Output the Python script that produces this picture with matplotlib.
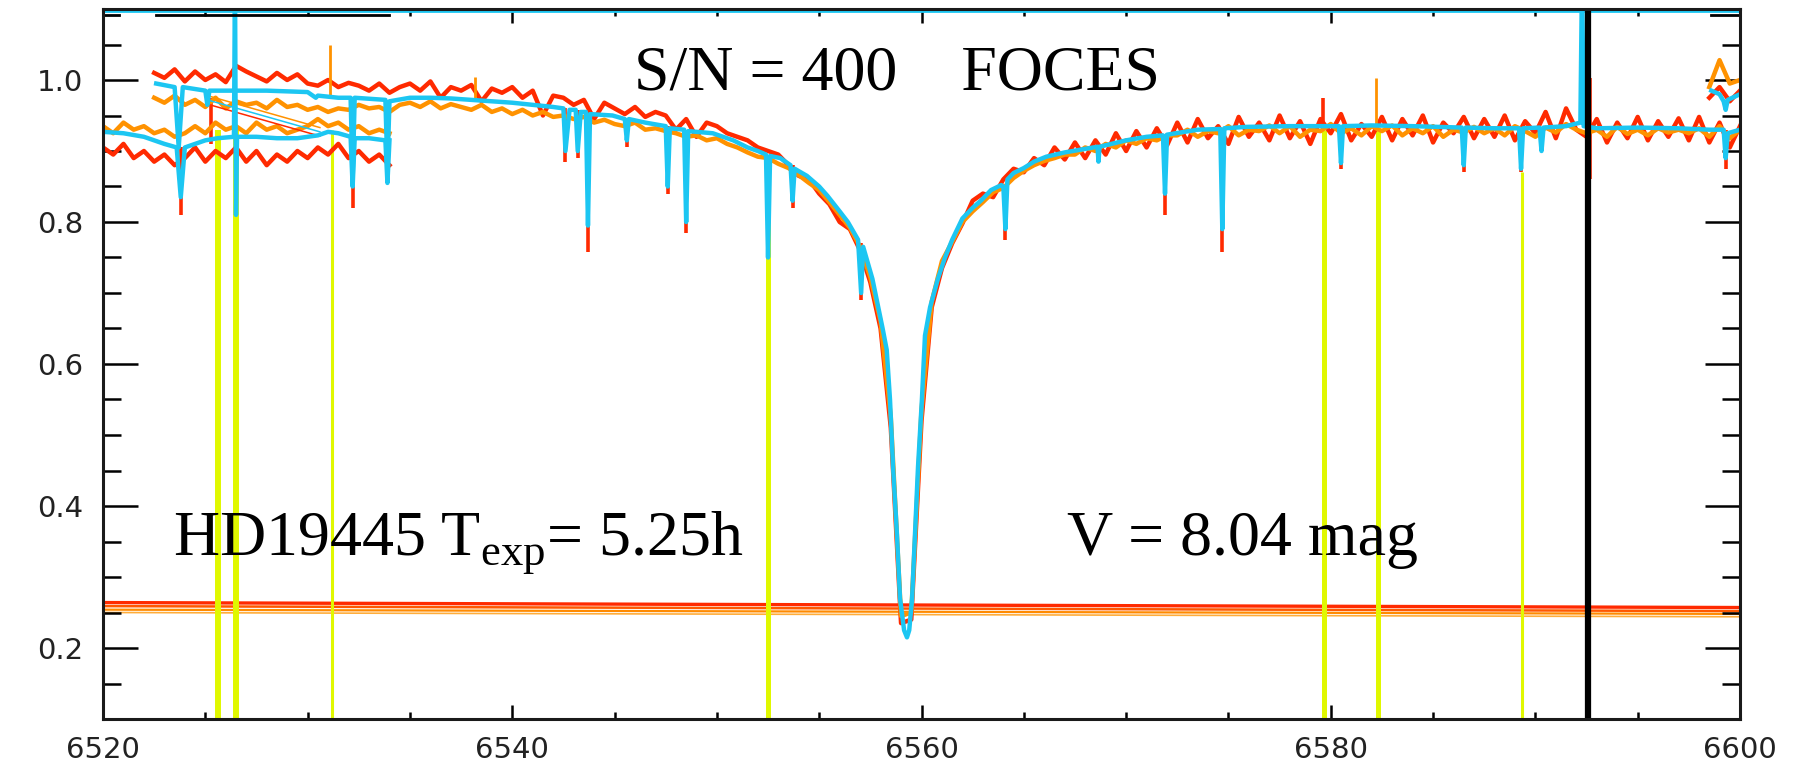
import numpy as np
import matplotlib.pyplot as plt
from matplotlib.ticker import MultipleLocator


# --------------------------------------------------------------------------------------------------
# Values (wavelength in Angstrom, normalised flux)
# --------------------------------------------------------------------------------------------------

# cyan (mean) spectrum: previous order (lower, ~0.92), main order, next order (upper right)
cyan_a = [(6520.0, 0.927), (6521.0, 0.925), (6522.0, 0.920), (6523.0, 0.910),
          (6523.6, 0.905), (6523.8, 0.835), (6524.0, 0.905), (6525.0, 0.915),
          (6525.6, 0.918), (6526.40, 0.920), (6526.45, 1.150), (6526.50, 0.810),
          (6526.55, 0.920), (6527.5, 0.920), (6528.5, 0.918), (6529.5, 0.918),
          (6530.5, 0.922), (6531.0, 0.927), (6531.5, 0.925), (6532.1, 0.920),
          (6532.2, 0.850), (6532.3, 0.918), (6533.0, 0.918), (6533.8, 0.915),
          (6533.9, 0.855), (6534.0, 0.915)]

cyan_b = [(6522.6, 0.995), (6523.5, 0.990), (6523.7, 0.905), (6523.9, 0.990),
          (6525.0, 0.985), (6525.1, 0.965), (6525.2, 0.985), (6528.0, 0.985),
          (6530.0, 0.983), (6530.4, 0.975), (6530.5, 0.978), (6531.5, 0.975),
          (6532.1, 0.975), (6532.2, 0.860), (6532.3, 0.975), (6533.8, 0.972),
          (6533.9, 0.875), (6534.0, 0.970), (6535.0, 0.975), (6536.0, 0.975),
          (6537.0, 0.974), (6538.0, 0.972), (6539.0, 0.970), (6540.0, 0.968),
          (6541.0, 0.965), (6542.0, 0.962), (6542.5, 0.960), (6542.6, 0.900),
          (6542.8, 0.958), (6543.1, 0.958), (6543.2, 0.900), (6543.35, 0.955),
          (6543.6, 0.955), (6543.7, 0.795), (6543.8, 0.952), (6544.9, 0.950),
          (6545.5, 0.945), (6545.6, 0.915), (6545.7, 0.945), (6546.5, 0.940),
          (6547.5, 0.935), (6547.6, 0.850), (6547.7, 0.932), (6548.4, 0.930),
          (6548.5, 0.800), (6548.6, 0.928), (6549.8, 0.925), (6550.8, 0.915),
          (6551.5, 0.905), (6552.0, 0.900), (6552.4, 0.895), (6552.5, 0.750),
          (6552.6, 0.893), (6553.1, 0.890), (6553.6, 0.880), (6553.7, 0.830),
          (6553.8, 0.875), (6554.4, 0.865), (6555.0, 0.850), (6555.4, 0.837),
          (6556.0, 0.815), (6556.4, 0.800), (6556.9, 0.775), (6557.05, 0.700),
          (6557.15, 0.765), (6557.6, 0.720), (6558.1, 0.650), (6558.3, 0.620),
          (6558.46, 0.550), (6558.61, 0.455), (6558.80, 0.360), (6558.95, 0.270),
          (6559.15, 0.225), (6559.29, 0.215), (6559.40, 0.225), (6559.54, 0.270),
          (6559.68, 0.360), (6559.83, 0.455), (6560.02, 0.550), (6560.17, 0.640),
          (6560.42, 0.680), (6560.8, 0.720), (6561.15, 0.750), (6561.5, 0.775),
          (6562.0, 0.805), (6562.5, 0.820), (6562.9, 0.830), (6563.4, 0.845),
          (6563.9, 0.852), (6564.0, 0.850), (6564.1, 0.790), (6564.2, 0.860),
          (6564.5, 0.869), (6565.0, 0.876), (6565.5, 0.885), (6566.1, 0.892),
          (6567.0, 0.898), (6568.0, 0.903), (6568.6, 0.906), (6568.65, 0.885),
          (6568.7, 0.906), (6570.0, 0.915), (6571.0, 0.920), (6571.8, 0.922),
          (6571.9, 0.840), (6572.0, 0.923), (6573.5, 0.930), (6574.6, 0.931),
          (6574.7, 0.790), (6574.8, 0.932), (6575.9, 0.934), (6578.0, 0.935),
          (6580.4, 0.935), (6580.5, 0.883), (6580.6, 0.935), (6582.0, 0.936),
          (6584.0, 0.935), (6586.4, 0.933), (6586.5, 0.880), (6586.6, 0.933),
          (6588.0, 0.932), (6589.2, 0.932), (6589.3, 0.875), (6589.4, 0.932),
          (6590.2, 0.933), (6590.3, 0.900), (6590.4, 0.933), (6591.5, 0.935),
          (6592.2, 0.940), (6592.28, 1.150), (6592.36, 0.935), (6593.0, 0.932),
          (6595.0, 0.933), (6597.0, 0.932), (6598.5, 0.930), (6599.2, 0.930),
          (6599.3, 0.890), (6599.4, 0.925), (6600.0, 0.930)]

cyan_c = [(6598.6, 0.985), (6599.0, 0.980), (6599.2, 0.970), (6599.3, 0.958),
          (6599.4, 0.972), (6600.0, 0.980)]

# red and orange spectra, sampled every 0.5 A from the start of each order
start_a, start_b, start_c = 6520.0, 6522.5, 6598.5
step = 0.5

red_a = [0.905, 0.895, 0.910, 0.890, 0.900, 0.885, 0.895, 0.880, 0.890, 0.905,
         0.885, 0.900, 0.890, 0.905, 0.885, 0.900, 0.880, 0.895, 0.885, 0.900,
         0.890, 0.905, 0.895, 0.910, 0.890, 0.900, 0.885, 0.895, 0.880]
orange_a = [0.935, 0.925, 0.940, 0.930, 0.935, 0.925, 0.930, 0.920, 0.925, 0.935,
            0.925, 0.940, 0.930, 0.935, 0.925, 0.940, 0.930, 0.935, 0.925, 0.930,
            0.935, 0.945, 0.935, 0.940, 0.930, 0.935, 0.925, 0.930, 0.925]

red_b = [1.010, 1.003, 1.015, 0.998, 1.012, 1.000, 1.008, 0.997, 1.020, 1.012,
         1.005, 0.998, 1.010, 1.000, 1.008, 0.995, 0.992, 1.000, 0.990, 0.996,
         0.992, 0.985, 0.995, 0.982, 0.990, 0.995, 0.985, 0.998, 0.975, 0.990,
         0.985, 0.993, 0.970, 0.988, 0.982, 0.990, 0.975, 0.985, 0.950, 0.978,
         0.975, 0.965, 0.972, 0.945, 0.968, 0.960, 0.952, 0.962, 0.948, 0.955,
         0.950, 0.930, 0.945, 0.920, 0.940, 0.935, 0.925, 0.920, 0.915, 0.905,
         0.900, 0.895, 0.880, 0.865, 0.860, 0.840, 0.825, 0.800, 0.790, 0.760,
         0.715, 0.650, 0.510, 0.235, 0.240, 0.520, 0.680, 0.735, 0.770, 0.798,
         0.830, 0.840, 0.835, 0.860, 0.875, 0.870, 0.890, 0.880, 0.905, 0.888,
         0.912, 0.890, 0.915, 0.895, 0.925, 0.900, 0.928, 0.905, 0.932, 0.908,
         0.940, 0.912, 0.945, 0.918, 0.935, 0.910, 0.948, 0.920, 0.940, 0.915,
         0.950, 0.918, 0.942, 0.910, 0.945, 0.925, 0.952, 0.915, 0.938, 0.920,
         0.948, 0.915, 0.945, 0.922, 0.950, 0.912, 0.940, 0.925, 0.948, 0.918,
         0.945, 0.920, 0.950, 0.915, 0.942, 0.925, 0.955, 0.918, 0.960, 0.930,
         0.920, 0.945, 0.912, 0.940, 0.918, 0.948, 0.915, 0.942, 0.920, 0.946,
         0.915, 0.948, 0.912, 0.940, 0.905, 0.935]
orange_b = [0.975, 0.968, 0.978, 0.965, 0.972, 0.962, 0.975, 0.960, 0.970, 0.965,
            0.968, 0.960, 0.972, 0.962, 0.965, 0.958, 0.962, 0.955, 0.960, 0.958,
            0.965, 0.960, 0.962, 0.955, 0.965, 0.968, 0.962, 0.970, 0.960, 0.966,
            0.962, 0.958, 0.965, 0.955, 0.960, 0.952, 0.958, 0.950, 0.955, 0.948,
            0.950, 0.945, 0.948, 0.940, 0.944, 0.938, 0.935, 0.940, 0.930, 0.932,
            0.928, 0.925, 0.920, 0.922, 0.915, 0.918, 0.910, 0.905, 0.898, 0.892,
            0.890, 0.882, 0.876, 0.866, 0.855, 0.845, 0.828, 0.810, 0.792, 0.765,
            0.722, 0.660, 0.525, 0.245, 0.250, 0.535, 0.688, 0.745, 0.772, 0.800,
            0.815, 0.828, 0.842, 0.848, 0.862, 0.872, 0.880, 0.886, 0.890, 0.895,
            0.895, 0.905, 0.900, 0.910, 0.905, 0.915, 0.910, 0.918, 0.915, 0.922,
            0.922, 0.930, 0.920, 0.928, 0.925, 0.935, 0.922, 0.930, 0.928, 0.936,
            0.925, 0.935, 0.920, 0.930, 0.928, 0.938, 0.925, 0.932, 0.922, 0.935,
            0.928, 0.936, 0.922, 0.932, 0.925, 0.935, 0.920, 0.930, 0.926, 0.934,
            0.925, 0.932, 0.922, 0.935, 0.928, 0.920, 0.933, 0.926, 0.938, 0.930,
            0.925, 0.930, 0.920, 0.934, 0.924, 0.930, 0.922, 0.932, 0.926, 0.930,
            0.925, 0.932, 0.920, 0.935, 0.918, 0.930]

red_c = [0.975, 0.990, 0.970, 0.985]
orange_c = [0.990, 1.028, 0.995, 1.000]

# narrow red features (line cores and single-pixel spikes): wavelength, low and high flux
red_tick_wl = [6523.8, 6525.3, 6532.2, 6533.9, 6542.6, 6543.2, 6543.7, 6545.6, 6547.6,
               6548.5, 6553.7, 6557.05, 6564.1, 6571.9, 6574.7, 6579.6, 6580.5, 6586.5,
               6589.3, 6592.65, 6599.3]
red_tick_lo = [0.810, 0.910, 0.820, 0.855, 0.885, 0.890, 0.758, 0.905, 0.840,
               0.785, 0.820, 0.690, 0.775, 0.810, 0.758, 0.930, 0.875, 0.870,
               0.870, 0.860, 0.875]
red_tick_hi = [0.905, 0.975, 0.915, 0.915, 0.960, 0.958, 0.955, 0.945, 0.935,
               0.930, 0.880, 0.770, 0.850, 0.922, 0.931, 0.975, 0.935, 0.933,
               0.932, 1.003, 0.930]

orange_tick_wl = [6531.1, 6538.2, 6582.2]
orange_tick_lo = [0.975, 0.970, 0.935]
orange_tick_hi = [1.050, 1.004, 1.003]

# lines joining the end of one order to the next
wrap_wl = [6525.1, 6530.6]
wrap_orange = [0.978, 0.933]
wrap_cyan = [0.972, 0.927]
wrap_red = [0.966, 0.921]

# spectra clipped at the top of the frame
top_cyan_wl = [6520.0, 6600.0]
top_cyan = [1.097, 1.097]
top_black_segments = [([6520.0, 6520.8], [1.091, 1.091]),
                      ([6522.6, 6534.0], [1.091, 1.091]),
                      ([6598.6, 6600.0], [1.091, 1.091])]

# background level traces near 0.25
hz_wl = [6520.0, 6600.0]
hz_red = [0.264, 0.257]
hz_orangered = [0.259, 0.252]
hz_orange = [0.254, 0.248]
hz_light = [0.250, 0.244]

# masked (telluric) wavelengths shown in yellow, and the black marker
yellow_wl = [6525.62, 6526.52, 6531.19, 6552.5, 6579.68, 6582.3, 6589.34]
yellow_top = [0.93, 0.93, 0.93, 0.85, 0.93, 0.93, 0.87]
black_wl = [6592.55]


# --------------------------------------------------------------------------------------------------

CYAN = '#1cc6f2'
RED = '#ff2a00'
ORANGE = '#ff9200'
YELLOW = '#e0f800'

plt.rcParams['mathtext.fontset'] = 'custom'
plt.rcParams['mathtext.rm'] = 'Liberation Serif'

fig = plt.figure(figsize=(18.09, 7.62), dpi=100)
ax = fig.add_axes([103 / 1809, 43 / 762, 1637 / 1809, 710 / 762])

# Background traces and masks
# ---------------------------
ax.plot(hz_wl, hz_red, color=RED, lw=2.4, zorder=1)
ax.plot(hz_wl, hz_orangered, color='#ff5800', lw=1.8, zorder=1)
ax.plot(hz_wl, hz_orange, color='#ff8a00', lw=1.6, zorder=1)
ax.plot(hz_wl, hz_light, color='#ffad3a', lw=1.2, zorder=1)

yellow_lw = [4.3, 4.3, 2.2, 3.6, 3.6, 3.6, 2.2]
for wl, top, lw in zip(yellow_wl, yellow_top, yellow_lw):
    ax.plot([wl, wl], [0.1, top], color=YELLOW, lw=lw, zorder=2, solid_capstyle='butt')

# Noisy spectra
# -------------
for start, red, orange in [(start_a, red_a, orange_a), (start_b, red_b, orange_b),
                           (start_c, red_c, orange_c)]:
    ax.plot(start + step * np.arange(len(red)), red, color=RED, lw=3.2, zorder=3)
    ax.plot(start + step * np.arange(len(orange)), orange, color=ORANGE, lw=3.2, zorder=4)

ax.vlines(red_tick_wl, red_tick_lo, red_tick_hi, color=RED, lw=2.6, zorder=3)
ax.vlines(orange_tick_wl, orange_tick_lo, orange_tick_hi, color=ORANGE, lw=2.0, zorder=4)

ax.plot(wrap_wl, wrap_orange, color=ORANGE, lw=1.1, zorder=4)
ax.plot(wrap_wl, wrap_red, color=RED, lw=1.1, zorder=4)
ax.plot(wrap_wl, wrap_cyan, color=CYAN, lw=1.1, zorder=5)

# Mean spectrum
# -------------
for seg in (cyan_a, cyan_b, cyan_c):
    wl, fl = np.array(seg).T
    ax.plot(wl, fl, color=CYAN, lw=3.2, zorder=5)

ax.plot(top_cyan_wl, top_cyan, color=CYAN, lw=2.0, zorder=6)
for wl, fl in top_black_segments:
    ax.plot(wl, fl, color='black', lw=2.0, zorder=6)

for wl in black_wl:
    ax.axvline(wl, color='black', lw=4.5, zorder=7)

# Annotations
# -----------
serif = dict(family='Liberation Serif', fontsize=46, color='black', va='baseline', zorder=8)
ax.text(6545.95, 0.986, 'S/N = 400    FOCES', **serif)
ax.text(6523.4, 0.331, r'HD19445 T$_{\mathrm{exp}}$= 5.25h', **serif)
ax.text(6567.1, 0.331, 'V = 8.04 mag', **serif)

# Axes
# ----
ax.set_xlim(6520, 6600)
ax.set_ylim(0.1, 1.1)
ax.xaxis.set_major_locator(MultipleLocator(20))
ax.xaxis.set_minor_locator(MultipleLocator(5))
ax.yaxis.set_major_locator(MultipleLocator(0.2))
ax.yaxis.set_minor_locator(MultipleLocator(0.05))
ax.yaxis.set_major_formatter(plt.FormatStrFormatter('%.1f'))

ax.tick_params(axis='y', which='major', direction='in', length=25, width=1.8,
               left=True, right=True, pad=14, labelsize=21, labelcolor='#222222')
ax.tick_params(axis='y', which='minor', direction='in', length=13, width=1.8,
               left=True, right=True)
ax.tick_params(axis='x', which='major', direction='in', length=10, width=1.8,
               top=True, bottom=True, pad=12, labelsize=21, labelcolor='#222222')
ax.tick_params(axis='x', which='minor', direction='in', length=5, width=1.8,
               top=True, bottom=True)
for spine in ax.spines.values():
    spine.set_linewidth(2.2)
    spine.set_color('#1a1a1a')
    spine.set_zorder(9)

# Save figure
# -----------
plt.savefig('out.png', dpi=100)
plt.close('all')
